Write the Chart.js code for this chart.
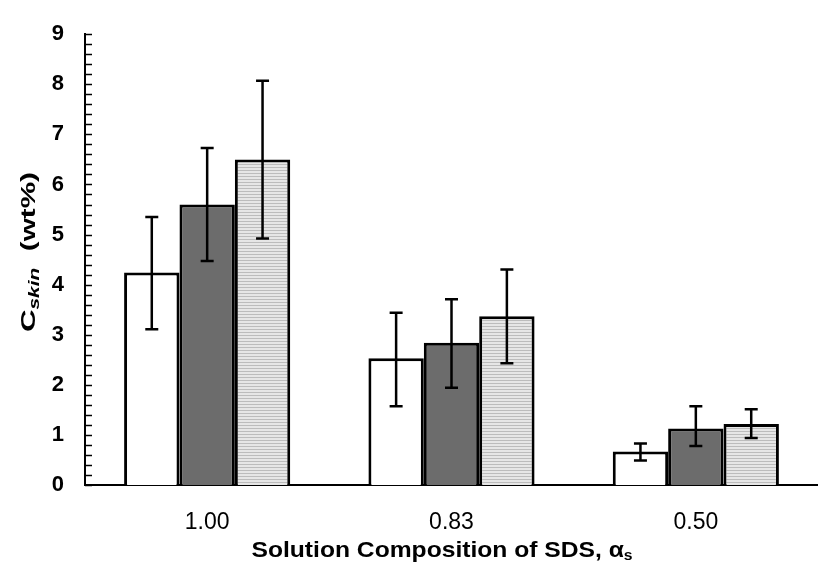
<!DOCTYPE html>
<html>
<head>
<meta charset="utf-8">
<script src="https://cdn.jsdelivr.net/npm/chart.js@4/dist/chart.umd.min.js"></script>
<style>
    html, body { margin: 0; padding: 0; background: #fff; }
    #wrap { width: 818px; height: 567px; position: relative; }
</style>
</head>
<body>
<div id="wrap"><canvas id="chart"></canvas></div>
<script>
// categories on the x axis (alpha_s)
const categories = ['1.00', '0.83', '0.50'];

// three series (wt%)
const whiteValues = [4.24, 2.53, 0.67];
const whiteLow = [3.11, 1.57, 0.49];
const whiteHigh = [5.35, 3.44, 0.83];

const darkValues = [5.60, 2.84, 1.13];
const darkLow = [4.47, 1.94, 0.78];
const darkHigh = [6.73, 3.71, 1.57];

const lightValues = [6.50, 3.37, 1.22];
const lightLow = [4.92, 2.43, 0.94];
const lightHigh = [8.07, 4.30, 1.51];

const yTicks = [0, 1, 2, 3, 4, 5, 6, 7, 8, 9];

const FONT = '"Liberation Sans", Arial, Helvetica, sans-serif';

// horizontal stripes for the light bars
function stripePattern() {
    const c = document.createElement('canvas');
    c.width = 6;
    c.height = 3;
    const g = c.getContext('2d');
    g.fillStyle = '#e6e6e6';
    g.fillRect(0, 0, 6, 3);
    g.fillStyle = '#bcbcbc';
    g.fillRect(0, 2, 6, 1);
    return g.createPattern(c, 'repeat');
}

const errorBars = {
    id: 'errorBars',
    afterDatasetsDraw(chart) {
        const ctx = chart.ctx;
        const y = chart.scales.y;
        ctx.save();
        ctx.strokeStyle = '#000';
        ctx.lineWidth = 2.5;
        chart.data.datasets.forEach((ds, i) => {
            const meta = chart.getDatasetMeta(i);
            meta.data.forEach((bar, j) => {
                const top = y.getPixelForValue(ds.high[j]);
                const bottom = y.getPixelForValue(ds.low[j]);
                ctx.beginPath();
                ctx.moveTo(bar.x, top);
                ctx.lineTo(bar.x, bottom);
                ctx.moveTo(bar.x - 6.5, top);
                ctx.lineTo(bar.x + 6.5, top);
                ctx.moveTo(bar.x - 6.5, bottom);
                ctx.lineTo(bar.x + 6.5, bottom);
                ctx.stroke();
            });
        });
        ctx.restore();
    }
};

// minor ticks on the inside of the y axis, every 0.2
const minorTicks = {
    id: 'minorTicks',
    afterDraw(chart) {
        const ctx = chart.ctx;
        const y = chart.scales.y;
        const x0 = chart.chartArea.left;
        ctx.save();
        ctx.strokeStyle = '#000';
        ctx.lineWidth = 1.5;
        for (let k = 0; k <= 45; k++) {
            const py = Math.round(y.getPixelForValue(k * 0.2)) + 0.5;
            ctx.beginPath();
            ctx.moveTo(x0, py);
            ctx.lineTo(x0 + 7, py);
            ctx.stroke();
        }
        ctx.restore();
    }
};

// draws a run of text pieces centred on 0, stretched to a given length
function drawStretched(ctx, parts, length) {
    let w = 0;
    parts.forEach(p => { ctx.font = p.f; w += ctx.measureText(p.t).width; });
    const sx = length / w;
    ctx.scale(sx, 1);
    let cx = -w / 2;
    parts.forEach(p => {
        ctx.font = p.f;
        ctx.fillText(p.t, cx, p.dy);
        cx += ctx.measureText(p.t).width;
    });
}

// axis titles with subscripts
const axisTitles = {
    id: 'axisTitles',
    afterDraw(chart) {
        const ctx = chart.ctx;
        ctx.save();
        ctx.fillStyle = '#000';
        ctx.textBaseline = 'alphabetic';

        ctx.translate(35, 252);
        ctx.rotate(-Math.PI / 2);
        drawStretched(ctx, [
            { t: 'C', f: 'bold 21px ' + FONT, dy: 0 },
            { t: 'skin', f: 'italic bold 14px ' + FONT, dy: 4 },
            { t: '  (wt%)', f: 'bold 20px ' + FONT, dy: 0 }
        ], 160);
        ctx.setTransform(1, 0, 0, 1, 0, 0);

        ctx.translate(442, 557);
        drawStretched(ctx, [
            { t: 'Solution Composition of SDS, \u03b1', f: 'bold 22px ' + FONT, dy: 0 },
            { t: 's', f: 'bold 14px ' + FONT, dy: 3 }
        ], 381);
        ctx.restore();
    }
};

const common = {
    borderColor: '#000',
    borderWidth: 3,
    barPercentage: 1.0,
    categoryPercentage: 0.68
};

new Chart(document.getElementById('chart'), {
    type: 'bar',
    data: {
        labels: categories,
        datasets: [
            { ...common, label: 'white', data: whiteValues, low: whiteLow, high: whiteHigh, backgroundColor: '#ffffff' },
            { ...common, label: 'dark', data: darkValues, low: darkLow, high: darkHigh, backgroundColor: '#6c6c6c' },
            { ...common, label: 'light', data: lightValues, low: lightLow, high: lightHigh, backgroundColor: stripePattern() }
        ]
    },
    options: {
        responsive: true,
        maintainAspectRatio: false,
        animation: false,
        layout: { padding: { top: 23, right: 0, left: 0, bottom: 0 } },
        plugins: {
            legend: { display: false },
            tooltip: { enabled: false }
        },
        scales: {
            x: {
                grid: { display: false, drawTicks: false },
                border: { display: true, color: '#000', width: 2 },
                ticks: {
                    color: '#000',
                    font: { family: FONT, size: 23 },
                    padding: 24
                },
                afterFit(scale) { scale.height = 82; }
            },
            y: {
                min: 0,
                max: 9,
                afterBuildTicks(scale) { scale.ticks = yTicks.map(v => ({ value: v })); },
                grid: { display: false, drawTicks: false },
                border: { display: true, color: '#000', width: 2 },
                ticks: {
                    color: '#000',
                    font: { family: FONT, size: 22, weight: 'bold' },
                    padding: 21
                },
                afterFit(scale) { scale.width = 85; }
            }
        }
    },
    plugins: [errorBars, minorTicks, axisTitles]
});
</script>
</body>
</html>
